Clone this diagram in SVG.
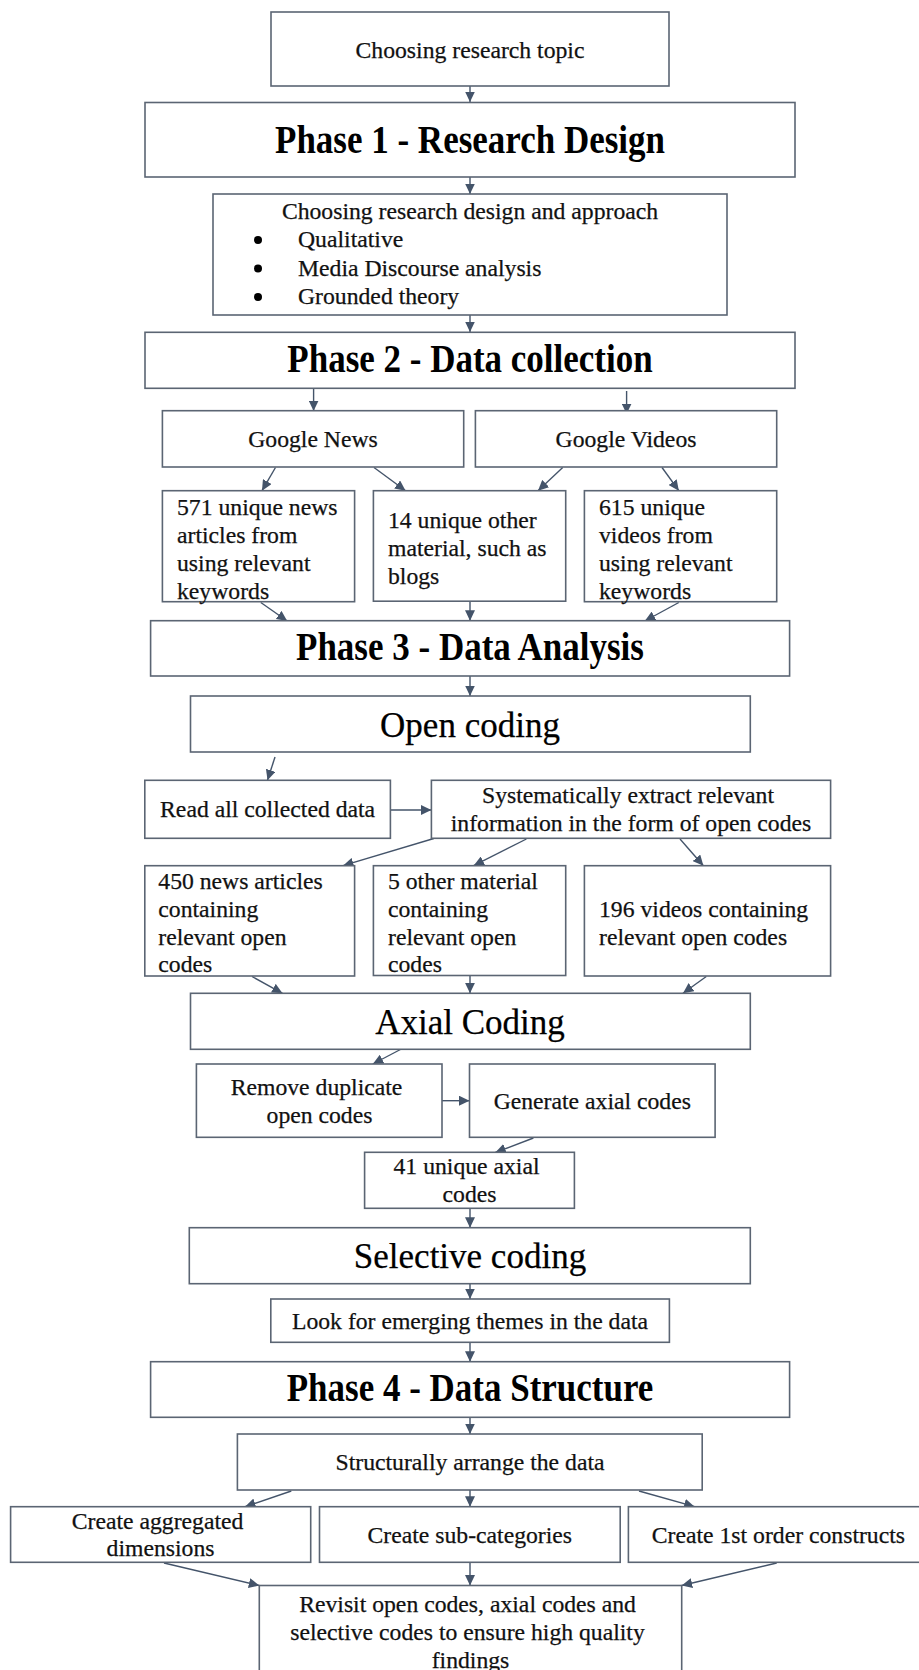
<svg xmlns="http://www.w3.org/2000/svg" width="919" height="1670" viewBox="0 0 919 1670">
  <defs>
    <marker id="arrow" markerUnits="userSpaceOnUse" markerWidth="11" markerHeight="10" refX="10.5" refY="5" orient="auto">
      <path d="M0,0 L10.5,5 L0,10 Z" fill="#44546a"/>
    </marker>
    <style>
      .box { fill: #ffffff; stroke: #5b6573; stroke-width: 1.6; }
      .t { font-family: "Liberation Serif", "Times New Roman", serif; font-size: 23.7px; fill: #111111; stroke: #111111; stroke-width: 0.25; }
      .c { text-anchor: middle; }
      .phase { font-family: "Liberation Serif", "Times New Roman", serif; font-size: 35px; font-weight: bold; fill: #000000; text-anchor: middle; }
      .step { font-family: "Liberation Serif", "Times New Roman", serif; font-size: 35px; fill: #000000; stroke: #000000; stroke-width: 0.25; text-anchor: middle; }
      .conn line { stroke: #44546a; stroke-width: 1.4; marker-end: url(#arrow); }
    </style>
  </defs>
  <rect width="919" height="1670" fill="#ffffff"/>

  <!-- connectors -->
  <g class="conn">
    <line x1="470" y1="86" x2="470" y2="102"/>
    <line x1="470" y1="177" x2="470" y2="194"/>
    <line x1="470" y1="315" x2="470" y2="332"/>
    <line x1="313.6" y1="388" x2="313.6" y2="411"/>
    <line x1="626.6" y1="391" x2="626.6" y2="414"/>
    <line x1="275.5" y1="467.5" x2="262" y2="490.7"/>
    <line x1="374" y1="467.5" x2="405.6" y2="490.7"/>
    <line x1="562.7" y1="467.5" x2="538" y2="490.7"/>
    <line x1="662" y1="467.5" x2="678.8" y2="490.7"/>
    <line x1="260.8" y1="602.5" x2="287.2" y2="621"/>
    <line x1="470" y1="602" x2="470" y2="620.7"/>
    <line x1="678.8" y1="602.5" x2="644.8" y2="621"/>
    <line x1="470" y1="676" x2="470" y2="696"/>
    <line x1="275" y1="757" x2="267.5" y2="780.3"/>
    <line x1="390.4" y1="810" x2="431.4" y2="810"/>
    <line x1="433.8" y1="838.5" x2="343" y2="865.7"/>
    <line x1="526.4" y1="839" x2="473.6" y2="865.7"/>
    <line x1="680" y1="839" x2="703.4" y2="865.7"/>
    <line x1="252" y1="976.5" x2="282.5" y2="993.3"/>
    <line x1="470" y1="975.5" x2="470" y2="993.3"/>
    <line x1="706.3" y1="976.5" x2="683" y2="993.3"/>
    <line x1="400.4" y1="1049.5" x2="372.8" y2="1064"/>
    <line x1="442" y1="1100.7" x2="469.5" y2="1100.7"/>
    <line x1="533.4" y1="1138" x2="495.3" y2="1152.5"/>
    <line x1="470" y1="1208.3" x2="470" y2="1227.7"/>
    <line x1="470" y1="1283.7" x2="470" y2="1299"/>
    <line x1="470" y1="1342.3" x2="470" y2="1361.7"/>
    <line x1="470" y1="1417.3" x2="470" y2="1434"/>
    <line x1="291.3" y1="1491" x2="245" y2="1506.7"/>
    <line x1="470" y1="1490" x2="470" y2="1506.7"/>
    <line x1="639" y1="1491" x2="694.6" y2="1506.7"/>
    <line x1="164" y1="1563" x2="259.3" y2="1585.5"/>
    <line x1="470" y1="1562.3" x2="470" y2="1585.5"/>
    <line x1="776.7" y1="1563" x2="681.7" y2="1585.5"/>
  </g>

  <!-- nodes -->
  <g id="topic">
    <rect class="box" x="271" y="12" width="398" height="74"/>
    <text class="t c" x="470" y="57.5">Choosing research topic</text>
  </g>

  <g id="phase1">
    <rect class="box" x="145" y="102.5" width="650" height="74.5"/>
    <text class="phase" transform="translate(470 152.5) scale(1 1.12)">Phase 1 - Research Design</text>
  </g>

  <g id="design">
    <rect class="box" x="213" y="194" width="514" height="121"/>
    <text class="t c" x="470" y="218.5">Choosing research design and approach</text>
    <circle cx="258" cy="240" r="4" fill="#000"/>
    <circle cx="258" cy="268.5" r="4" fill="#000"/>
    <circle cx="258" cy="297" r="4" fill="#000"/>
    <text class="t" x="298" y="247">Qualitative</text>
    <text class="t" x="298" y="275.5">Media Discourse analysis</text>
    <text class="t" x="298" y="304">Grounded theory</text>
  </g>

  <g id="phase2">
    <rect class="box" x="145" y="332.3" width="650" height="56"/>
    <text class="phase" transform="translate(470 372) scale(1 1.12)">Phase 2 - Data collection</text>
  </g>

  <g id="google-news">
    <rect class="box" x="162.4" y="410.7" width="301.3" height="56.3"/>
    <text class="t c" x="313" y="446.5">Google News</text>
  </g>

  <g id="google-videos">
    <rect class="box" x="475.4" y="410.7" width="301.3" height="56.3"/>
    <text class="t c" x="626" y="446.5">Google Videos</text>
  </g>

  <g id="news-articles">
    <rect class="box" x="162.4" y="490.7" width="192.2" height="111"/>
    <text class="t" x="177">
      <tspan x="177" y="514.5">571 unique news</tspan>
      <tspan x="177" y="542.5">articles from</tspan>
      <tspan x="177" y="570.5">using relevant</tspan>
      <tspan x="177" y="598.5">keywords</tspan>
    </text>
  </g>

  <g id="other-material">
    <rect class="box" x="373.4" y="490.7" width="192.3" height="110.5"/>
    <text class="t" x="388">
      <tspan x="388" y="528">14 unique other</tspan>
      <tspan x="388" y="556">material, such as</tspan>
      <tspan x="388" y="584">blogs</tspan>
    </text>
  </g>

  <g id="videos">
    <rect class="box" x="584.4" y="490.7" width="192.3" height="111"/>
    <text class="t" x="599">
      <tspan x="599" y="514.5">615 unique</tspan>
      <tspan x="599" y="542.5">videos from</tspan>
      <tspan x="599" y="570.5">using relevant</tspan>
      <tspan x="599" y="598.5">keywords</tspan>
    </text>
  </g>

  <g id="phase3">
    <rect class="box" x="150.6" y="620.7" width="639" height="55.3"/>
    <text class="phase" transform="translate(470 660) scale(1 1.12)">Phase 3 - Data Analysis</text>
  </g>

  <g id="open-coding">
    <rect class="box" x="190.5" y="696" width="559.8" height="56"/>
    <text class="step" x="470" y="737">Open coding</text>
  </g>

  <g id="read-data">
    <rect class="box" x="144.8" y="780.3" width="245.6" height="58"/>
    <text class="t c" x="267.6" y="817">Read all collected data</text>
  </g>

  <g id="extract">
    <rect class="box" x="431.4" y="780.3" width="399.2" height="58"/>
    <text class="t c" x="631">
      <tspan x="631" y="803.3">Systematically extract relevant</tspan>
      <tspan x="631" y="831">information in the form of open codes</tspan>
    </text>
  </g>

  <g id="open-news">
    <rect class="box" x="144.8" y="865.7" width="209.8" height="110.3"/>
    <text class="t" x="158.3">
      <tspan x="158.3" y="889">450 news articles</tspan>
      <tspan x="158.3" y="916.8">containing</tspan>
      <tspan x="158.3" y="944.6">relevant open</tspan>
      <tspan x="158.3" y="972.4">codes</tspan>
    </text>
  </g>

  <g id="open-other">
    <rect class="box" x="373.4" y="865.7" width="192.3" height="109.8"/>
    <text class="t" x="388">
      <tspan x="388" y="889">5 other material</tspan>
      <tspan x="388" y="916.8">containing</tspan>
      <tspan x="388" y="944.6">relevant open</tspan>
      <tspan x="388" y="972.4">codes</tspan>
    </text>
  </g>

  <g id="open-videos">
    <rect class="box" x="584.4" y="865.7" width="246.2" height="110.3"/>
    <text class="t" x="599">
      <tspan x="599" y="916.8">196 videos containing</tspan>
      <tspan x="599" y="944.6">relevant open codes</tspan>
    </text>
  </g>

  <g id="axial-coding">
    <rect class="box" x="190.5" y="993.3" width="559.8" height="56"/>
    <text class="step" x="470" y="1033.5">Axial Coding</text>
  </g>

  <g id="remove-duplicates">
    <rect class="box" x="196.4" y="1064" width="245.6" height="73.3"/>
    <text class="t c" x="319.5">
      <tspan x="319.5" y="1095">Remove duplicate</tspan>
      <tspan x="319.5" y="1122.7">open codes</tspan>
    </text>
  </g>

  <g id="generate-axial">
    <rect class="box" x="469.5" y="1064" width="245.6" height="73.3"/>
    <text class="t c" x="592.3" y="1109">Generate axial codes</text>
  </g>

  <g id="axial-count">
    <rect class="box" x="364.6" y="1152.3" width="209.8" height="56"/>
    <text class="t c" x="469.5">
      <tspan x="469.5" y="1174">41 unique axial</tspan>
      <tspan x="469.5" y="1201.7">codes</tspan>
    </text>
  </g>

  <g id="selective-coding">
    <rect class="box" x="189.3" y="1227.7" width="561" height="56"/>
    <text class="step" x="470" y="1267.5">Selective coding</text>
  </g>

  <g id="themes">
    <rect class="box" x="270.8" y="1299" width="398.6" height="43.3"/>
    <text class="t c" x="470" y="1328.5">Look for emerging themes in the data</text>
  </g>

  <g id="phase4">
    <rect class="box" x="150.6" y="1361.7" width="639" height="55.6"/>
    <text class="phase" transform="translate(470 1401) scale(1 1.12)">Phase 4 - Data Structure</text>
  </g>

  <g id="arrange">
    <rect class="box" x="237.4" y="1434" width="464.8" height="56"/>
    <text class="t c" x="470" y="1469.5">Structurally arrange the data</text>
  </g>

  <g id="aggregated">
    <rect class="box" x="10.6" y="1506.7" width="300.1" height="55.6"/>
    <text class="t c" x="160.5">
      <tspan x="160.5" y="1528.5">Create aggregated</tspan>
      <tspan x="160.5" y="1556">dimensions</tspan>
    </text>
  </g>

  <g id="sub-categories">
    <rect class="box" x="319.5" y="1506.7" width="300.7" height="55.6"/>
    <text class="t c" x="469.8" y="1543">Create sub-categories</text>
  </g>

  <g id="first-order">
    <rect class="box" x="628.4" y="1506.7" width="300" height="55.6"/>
    <text class="t c" x="778.4" y="1543">Create 1st order constructs</text>
  </g>

  <g id="revisit">
    <rect class="box" x="259.3" y="1585.5" width="422.4" height="120"/>
    <text class="t c" x="470.5">
      <tspan x="470.5" y="1611.7">Revisit open codes, axial codes and</tspan>
      <tspan x="470.5" y="1640">selective codes to ensure high quality</tspan>
      <tspan x="470.5" y="1667.5">findings</tspan>
    </text>
  </g>
</svg>
